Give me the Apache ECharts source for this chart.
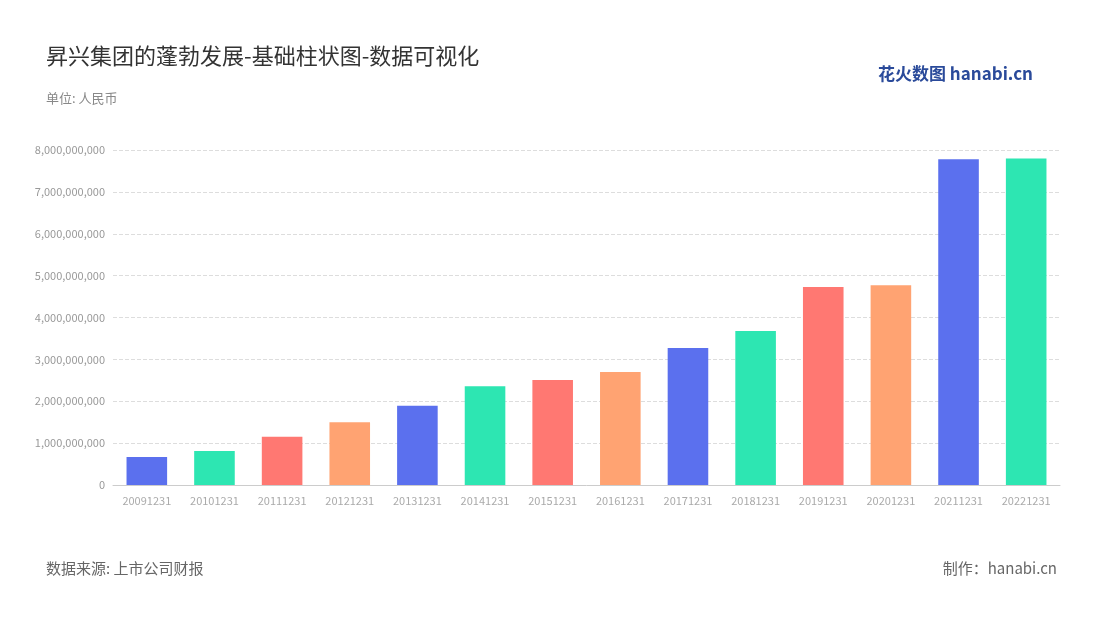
<!DOCTYPE html>
<html><head><meta charset="utf-8">
<script src="https://cdn.jsdelivr.net/npm/echarts@6/dist/echarts.min.js"></script>
<style>html,body{margin:0;padding:0;background:#fff}#c{width:1100px;height:620px}</style>
</head><body><div id="c"></div>
<script>
const categories = ['20091231','20101231','20111231','20121231','20131231','20141231','20151231','20161231','20171231','20181231','20191231','20201231','20211231','20221231'];
const values = [670000000,810000000,1150000000,1500000000,1890000000,2360000000,2510000000,2700000000,3270000000,3680000000,4730000000,4770000000,7780000000,7800000000];
const palette = ['#5b70ee','#2de6b2','#ff7872','#ffa372'];
const chart = echarts.init(document.getElementById('c'));
const F = '"Noto Sans CJK SC","Noto Sans",sans-serif';
chart.setOption({
  textStyle:{fontFamily:F},
  title:[
    {text:'昇兴集团的蓬勃发展-基础柱状图-数据可视化',left:41,top:40,textStyle:{fontSize:22,fontWeight:'normal',color:'#333',fontFamily:F}},
    {text:'单位: 人民币',left:41,top:87,textStyle:{fontSize:13,fontWeight:'normal',color:'#888',fontFamily:F}},
    {text:'数据来源: 上市公司财报',left:41,top:556,textStyle:{fontSize:15,fontWeight:'normal',color:'#666',fontFamily:F}},
    {text:'制作：hanabi.cn',right:38,top:556,textStyle:{fontSize:15,fontWeight:'normal',color:'#666',fontFamily:F}},
    {text:'花火数图 hanabi.cn',right:62,top:60,textStyle:{fontSize:17,fontWeight:'bold',color:'#2a4a9a',fontFamily:F}}
  ],
  grid:{left:113,right:40,top:150,bottom:135},
  xAxis:{type:'category',data:categories,axisTick:{show:false},
    axisLine:{lineStyle:{color:'#ccc'}},axisLabel:{color:'#aaa',fontSize:11,margin:10,interval:0}},
  yAxis:{type:'value',min:0,max:8000000000,interval:1000000000,
    axisLabel:{color:'#999',fontSize:11,formatter:v=>v.toLocaleString('en-US')},
    axisLine:{show:false},axisTick:{show:false},
    splitLine:{lineStyle:{type:'dashed',color:'#ddd'}}},
  series:[{type:'bar',barWidth:'60%',data:values.map((v,i)=>({value:v,itemStyle:{color:palette[i%4]}}))}]
});
</script></body></html>
